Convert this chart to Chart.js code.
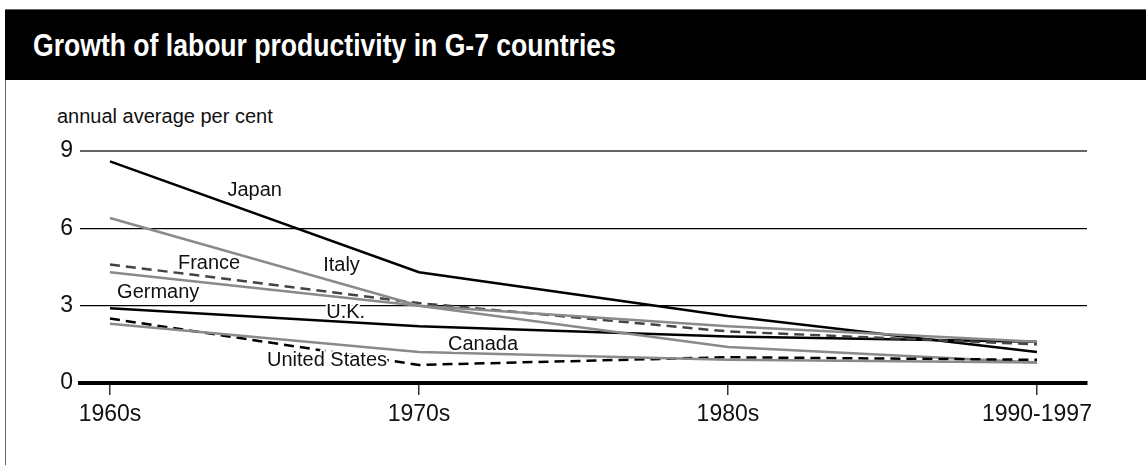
<!DOCTYPE html>
<html>
<head>
<meta charset="utf-8">
<script src="https://cdn.jsdelivr.net/npm/chart.js@4.4.0/dist/chart.umd.js"></script>
<style>
    html, body { margin: 0; padding: 0; background: #fff; }
    body { width: 1146px; height: 465px; position: relative; overflow: hidden;
           font-family: "Liberation Sans", Arial, sans-serif; }
    .frame { position: absolute; left: 5px; top: 9px; right: -2px; bottom: -2px;
             border-left: 1px solid #666; border-top: 1px solid #666; }
    .head { position: absolute; left: 5px; top: 10px; right: 0; height: 70px; background: #000; }
    .head h1 { margin: 0; position: absolute; left: 28px; top: 17px; color: #fff;
               font-size: 32px; line-height: 36px; font-weight: bold; white-space: nowrap;
               transform: scaleX(0.83); transform-origin: left top; }
    .unit { position: absolute; left: 57px; top: 105px; font-size: 20px; color: #111; }
    #chart { position: absolute; left: 0; top: 0; }
</style>
</head>
<body>
<div class="frame"></div>
<div class="head"><h1>Growth of labour productivity in G-7 countries</h1></div>
<div class="unit">annual average per cent</div>
<canvas id="chart" width="1146" height="465"></canvas>
<script>
// periods on the x axis
const periods = ['1960s', '1970s', '1980s', '1990-1997'];

// annual average growth, per cent
const japan   = [8.6, 4.3, 2.6, 1.2];
const italy   = [6.4, 3.0, 1.4, 0.8];
const france  = [4.6, 3.1, 2.0, 1.5];
const germany = [4.3, 3.0, 2.2, 1.6];
const uk      = [2.9, 2.2, 1.8, 1.6];
const canada  = [2.3, 1.2, 0.9, 0.8];
const us      = [2.5, 0.7, 1.0, 0.9];

const yTicks = [0, 3, 6, 9];

// where the country names sit, in axis units
const notes = [
    { text: 'Japan',         x: 0.38,  y: 7.45 },
    { text: 'France',        x: 0.22,  y: 4.62 },
    { text: 'Italy',         x: 0.69,  y: 4.54 },
    { text: 'Germany',       x: 0.023, y: 3.53 },
    { text: 'U.K.',          x: 0.70,  y: 2.72 },
    { text: 'Canada',        x: 1.094, y: 1.51 },
    { text: 'United States', x: 0.508, y: 0.89 },
];

const BLACK = '#000';
const GREY  = '#8a8a8a';
const FONT  = '"Liberation Sans", Arial, sans-serif';

const pts = (arr) => arr.map((v, i) => ({ x: i, y: v }));
const line = (label, data, color, dash) => ({
    label, data: pts(data), borderColor: color, borderWidth: 2.5,
    borderDash: dash || [], borderCapStyle: 'butt', pointRadius: 0, tension: 0, fill: false,
});

const notesPlugin = {
    id: 'notes',
    afterDatasetsDraw(chart) {
        const { ctx, scales: { x, y } } = chart;
        ctx.save();
        ctx.font = `20px ${FONT}`;
        ctx.textBaseline = 'middle';
        ctx.textAlign = 'left';
        ctx.lineJoin = 'round';
        for (const n of notes) {
            const px = x.getPixelForValue(n.x), py = y.getPixelForValue(n.y);
            ctx.strokeStyle = '#fff'; ctx.lineWidth = 4;
            ctx.strokeText(n.text, px, py);
            ctx.fillStyle = '#111';
            ctx.fillText(n.text, px, py);
        }
        ctx.restore();
    },
};

new Chart(document.getElementById('chart'), {
    type: 'line',
    data: {
        datasets: [
            line('Canada', canada, GREY),
            line('United States', us, BLACK, [10, 6]),
            line('Italy', italy, GREY),
            line('Germany', germany, GREY),
            line('France', france, '#444', [10, 6]),
            line('U.K.', uk, BLACK),
            line('Japan', japan, BLACK),
        ],
    },
    options: {
        responsive: false, animation: false,
        layout: { padding: { left: 0, right: 59, top: 151, bottom: 0 } },
        plugins: { legend: { display: false }, tooltip: { enabled: false } },
        scales: {
            x: {
                type: 'linear', min: -0.097, max: 3.162,
                afterFit: (s) => { s.height = 82; },
                afterBuildTicks: (s) => { s.ticks = periods.map((_, i) => ({ value: i })); },
                ticks: {
                    callback: (v) => periods[v] ?? '',
                    font: { family: FONT, size: 23 }, color: '#111',
                    padding: 6, maxRotation: 0, autoSkip: false,
                },
                grid: { drawOnChartArea: false, drawTicks: true, tickLength: 12, color: '#333', lineWidth: 1.5 },
                border: { display: true, color: BLACK, width: 4 },
            },
            y: {
                min: 0, max: 9,
                afterFit: (s) => { s.width = 80; },
                afterBuildTicks: (s) => { s.ticks = yTicks.map((v) => ({ value: v })); },
                ticks: { font: { family: FONT, size: 23 }, color: '#111', padding: 7 },
                grid: {
                    drawTicks: false,
                    color: (c) => (c.tick.value === 9 ? '#666' : BLACK),
                    lineWidth: (c) => (c.tick.value === 0 ? 0 : c.tick.value === 9 ? 2 : 1.2),
                },
                border: { display: false },
            },
        },
    },
    plugins: [notesPlugin],
});
</script>
</body>
</html>
